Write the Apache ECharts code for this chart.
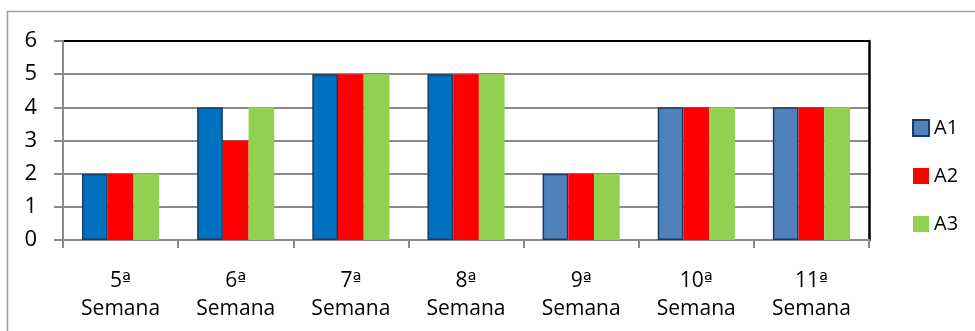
<!DOCTYPE html>
<html>
<head>
<meta charset="utf-8">
<script src="https://cdn.jsdelivr.net/npm/echarts@6/dist/echarts.min.js"></script>
<style>
  html, body { margin: 0; padding: 0; background: #fff; }
  #chart { width: 975px; height: 331px; }
</style>
</head>
<body>
<div id="chart"></div>
<script>
// Weekly scores per group
const categories = ['5ª\nSemana', '6ª\nSemana', '7ª\nSemana', '8ª\nSemana', '9ª\nSemana', '10ª\nSemana', '11ª\nSemana'];
const seriesNames = ['A1', 'A2', 'A3'];
const a1Values = [2, 4, 5, 5, 2, 4, 4];
const a2Values = [2, 3, 5, 5, 2, 4, 4];
const a3Values = [2, 4, 5, 5, 2, 4, 4];
const yTicks = [0, 1, 2, 3, 4, 5, 6];

// Fill colours for A1 bars (first four weeks in a brighter blue)
const a1Fill = ['#0070C0', '#0070C0', '#0070C0', '#0070C0', '#4F81BD', '#4F81BD', '#4F81BD'];

const font = '"Open Sans", "Noto Sans", sans-serif';
const grey = '#8a8a8a';

// The ordinal sign is set in a face whose "ª" carries an underline
function categoryLabel(text) {
  return text.split('\n').map(line =>
    line.split('ª').map(s => (s ? '{t|' + s + '}' : '')).join('{o|ª}')
  ).join('\n');
}

const chart = echarts.init(document.getElementById('chart'), null, { renderer: 'canvas' });

chart.setOption({
  animation: false,
  backgroundColor: '#fff',
  graphic: [{
    type: 'rect',
    shape: { x: 7.5, y: 11.5, width: 1000, height: 400 },
    style: { fill: 'none', stroke: '#a0a0a0', lineWidth: 1.5 },
    silent: true,
    z: -1
  }],
  grid: { left: 63, right: 106, top: 41, bottom: 91, containLabel: false },
  legend: {
    orient: 'vertical',
    left: 907,
    top: 113,
    itemWidth: 16,
    itemHeight: 16,
    itemGap: 28,
    icon: 'rect',
    textStyle: { fontFamily: font, fontSize: 20, lineHeight: 20, color: '#000' },
    data: seriesNames
  },
  xAxis: {
    type: 'category',
    data: categories,
    axisLine: { lineStyle: { color: grey, width: 2 } },
    axisTick: { show: true, length: 8, lineStyle: { color: grey, width: 2 } },
    axisLabel: {
      margin: 27,
      formatter: categoryLabel,
      rich: {
        t: { fontFamily: font, fontSize: 21, color: '#000', lineHeight: 28 },
        o: { fontFamily: '"DejaVu Sans", sans-serif', fontSize: 19, color: '#000', lineHeight: 28 }
      }
    },
    splitLine: { show: false }
  },
  yAxis: [{
    type: 'value',
    min: 0,
    max: 6,
    interval: 1,
    axisLine: { show: true, lineStyle: { color: grey, width: 2 } },
    axisTick: { show: true, length: 9, lineStyle: { color: grey, width: 2 } },
    axisLabel: {
      fontFamily: font, fontSize: 22, color: '#000', margin: 26,
      formatter: v => (yTicks.includes(v) ? String(v) : '')
    },
    splitLine: { show: true, lineStyle: { color: [grey, grey, grey, grey, grey, grey, '#000'], width: 2 } }
  }, {
    type: 'value',
    position: 'right',
    min: 0,
    max: 6,
    interval: 1,
    axisLine: { show: true, lineStyle: { color: '#000', width: 2.5 } },
    axisTick: { show: false },
    axisLabel: { show: false },
    splitLine: { show: false }
  }],
  series: [
    {
      name: seriesNames[0],
      type: 'bar',
      barGap: '0%',
      barCategoryGap: '33%',
      itemStyle: { color: '#4F81BD', borderColor: '#1F3A5F', borderWidth: 1.5 },
      data: a1Values.map((v, i) => ({ value: v, itemStyle: { color: a1Fill[i] } }))
    },
    {
      name: seriesNames[1],
      type: 'bar',
      barGap: '0%',
      barCategoryGap: '33%',
      itemStyle: { color: '#FF0000' },
      data: a2Values
    },
    {
      name: seriesNames[2],
      type: 'bar',
      barGap: '0%',
      barCategoryGap: '33%',
      itemStyle: { color: '#92D050' },
      data: a3Values
    }
  ]
});
</script>
</body>
</html>
